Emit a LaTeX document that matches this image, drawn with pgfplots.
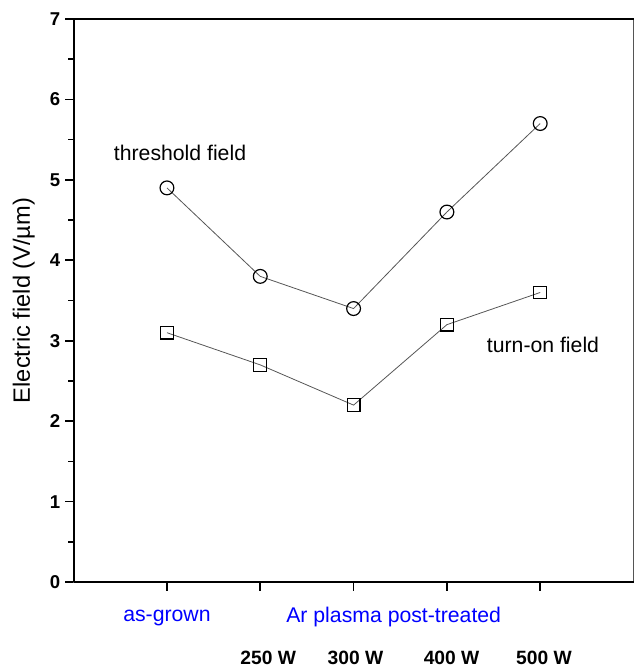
\documentclass[border=0pt]{standalone}
\usepackage{fontspec}
\setmainfont{Liberation Sans}
\usepackage{pgfplots}
\pgfplotsset{compat=1.18}
\definecolor{cBlue}{RGB}{0,0,255}
\definecolor{cLine}{HTML}{555555}

\begin{document}
\begin{tikzpicture}
\begin{axis}[
  name=main, at={(0,0)}, anchor=south west,
  scale only axis, width=422pt, height=424.5pt,
  xmin=0, xmax=6, ymin=0, ymax=7,
  xtick={1,2,3,4,5}, xticklabels={},
  ytick={0,1,...,7}, minor ytick={0.5,1.5,...,6.5},
  tick pos=left, tick align=outside,
  major tick length=6.5pt, minor tick length=4pt,
  every tick/.style={black, line width=1.2pt},
  axis line style={cLine, line width=0.6pt},
  yticklabel style={font=\fontsize{14}{15}\selectfont\bfseries},
  /pgf/number format/assume math mode=true,
  ylabel={Electric field (V/µm)},
  ylabel style={at={(axis description cs:-0.089,0.5)}, anchor=center,
    font=\fontsize{17.8}{19}\selectfont},
  clip=false,
]
\addplot[cLine, line width=0.6pt, mark=o, mark size=5.2pt,
  mark options={black, line width=0.9pt}]
  coordinates {(1,4.9)(2,3.8)(3,3.4)(4,4.6)(5,5.7)};
\addplot[cLine, line width=0.6pt, mark=square, mark size=4.8pt,
  mark options={black, line width=0.9pt}]
  coordinates {(1,3.1)(2,2.7)(3,2.2)(4,3.2)(5,3.6)};

\draw[black, line width=1.5pt] (rel axis cs:0,1) -- (rel axis cs:1,1);
\draw[black, line width=1.5pt] (rel axis cs:0,0) -- (rel axis cs:1,0);
\draw[black, line width=1.5pt] (rel axis cs:0,0) -- (rel axis cs:0,1);

\node[font=\fontsize{16}{18}\selectfont] at (axis cs:1.14,5.34) {threshold field};
\node[font=\fontsize{16}{18}\selectfont] at (axis cs:5.03,2.95) {turn-on field};
\node[font=\fontsize{16}{18}\selectfont, text=cBlue] at (axis cs:1,-0.45) {as-grown};
\node[font=\fontsize{16}{18}\selectfont, text=cBlue] at (axis cs:3.43,-0.43) {Ar plasma post-treated};
\node[font=\fontsize{14.5}{15}\selectfont\bfseries] at (axis cs:2.085,-0.94) {250 W};
\node[font=\fontsize{14.5}{15}\selectfont\bfseries] at (axis cs:3.02,-0.94) {300 W};
\node[font=\fontsize{14.5}{15}\selectfont\bfseries] at (axis cs:4.05,-0.94) {400 W};
\node[font=\fontsize{14.5}{15}\selectfont\bfseries] at (axis cs:5.04,-0.94) {500 W};
\end{axis}
\useasboundingbox (-55.5pt,-63pt) rectangle (423pt,438.75pt);
\end{tikzpicture}
\end{document}
